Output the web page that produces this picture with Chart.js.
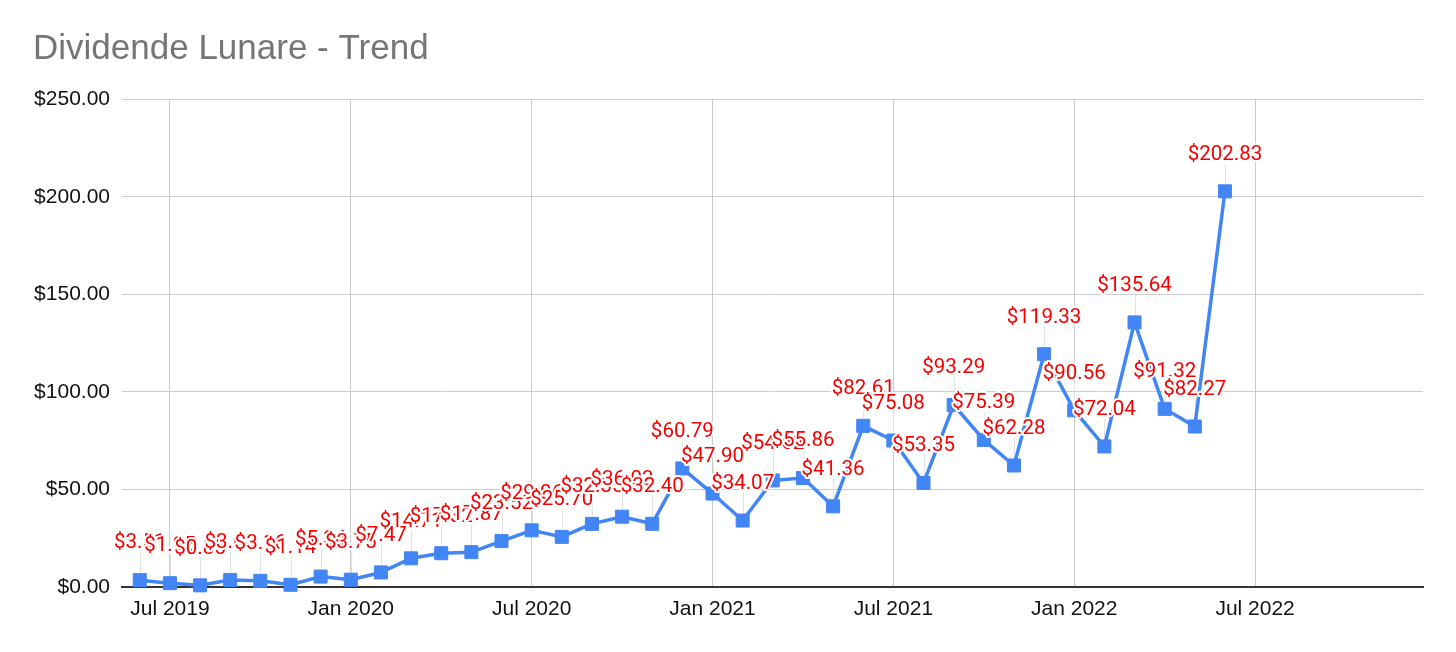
<!DOCTYPE html>
<html>
<head>
<meta charset="utf-8">
<script src="https://cdn.jsdelivr.net/npm/chart.js@4.4.0/dist/chart.umd.min.js"></script>
<style>
html,body{margin:0;padding:0;background:#fff;}
#wrap{width:1456px;height:652px;position:relative;}
</style>
</head>
<body>
<div id="wrap"><canvas id="c"></canvas></div>
<script>
const chartTitle = 'Dividende Lunare - Trend';

const months = [
  '2019-06','2019-07','2019-08','2019-09','2019-10','2019-11','2019-12',
  '2020-01','2020-02','2020-03','2020-04','2020-05','2020-06','2020-07',
  '2020-08','2020-09','2020-10','2020-11','2020-12',
  '2021-01','2021-02','2021-03','2021-04','2021-05','2021-06','2021-07',
  '2021-08','2021-09','2021-10','2021-11','2021-12',
  '2022-01','2022-02','2022-03','2022-04','2022-05','2022-06'
];

const dividends = [
  3.51, 1.95, 0.85, 3.63, 3.16, 1.14, 5.34,
  3.75, 7.47, 14.71, 17.32, 17.87, 23.52, 29.06,
  25.70, 32.35, 36.03, 32.40, 60.79,
  47.90, 34.07, 54.62, 55.86, 41.36, 82.61, 75.08,
  53.35, 93.29, 75.39, 62.28, 119.33,
  90.56, 72.04, 135.64, 91.32, 82.27, 202.83
];

const tickLabels = ['Jul 2019','Jan 2020','Jul 2020','Jan 2021','Jul 2021','Jan 2022','Jul 2022'];
const yTicks = [0, 50, 100, 150, 200, 250];

const MONTH_NAMES = ['Jan','Feb','Mar','Apr','May','Jun','Jul','Aug','Sep','Oct','Nov','Dec'];
function monthIndexFromYM(ym){
  const [y,m] = ym.split('-').map(Number);
  return (y-2019)*12 + (m-6);
}
function monthIndexFromLabel(lbl){
  const [mn, y] = lbl.split(' ');
  return (Number(y)-2019)*12 + (MONTH_NAMES.indexOf(mn)+1-6);
}
const tickPositions = tickLabels.map(monthIndexFromLabel);

const points = months.map((m,i)=>({x: monthIndexFromYM(m), y: dividends[i]}));

const fmt = v => '$' + v.toFixed(2);

const valueLabels = {
  id: 'valueLabels',
  beforeDatasetsDraw(chart){
    const meta = chart.getDatasetMeta(0);
    const ctx = chart.ctx;
    ctx.save();
    ctx.strokeStyle = '#e2e2e2';
    ctx.lineWidth = 1;
    meta.data.forEach(p=>{
      const x = Math.round(p.x)+0.5;
      ctx.beginPath();
      ctx.moveTo(x, p.y-28);
      ctx.lineTo(x, p.y-7);
      ctx.stroke();
    });
    ctx.restore();
  },
  afterDatasetsDraw(chart){
    const meta = chart.getDatasetMeta(0);
    const ctx = chart.ctx;
    ctx.save();
    ctx.font = '20.5px Roboto, "Liberation Sans", sans-serif';
    ctx.textAlign = 'center';
    ctx.textBaseline = 'alphabetic';
    ctx.lineJoin = 'round';
    meta.data.forEach((p,i)=>{
      const t = fmt(dividends[i]);
      const ty = p.y - 31.7;
      ctx.lineWidth = 4;
      ctx.strokeStyle = '#ffffff';
      ctx.strokeText(t, p.x, ty);
      ctx.fillStyle = '#f50000';
      ctx.fillText(t, p.x, ty);
    });
    ctx.restore();
  }
};

new Chart(document.getElementById('c'), {
  type: 'line',
  data: {
    datasets: [{
      data: points,
      borderColor: '#4285f4',
      backgroundColor: '#4285f4',
      borderWidth: 3.5,
      tension: 0,
      pointStyle: 'rect',
      pointRadius: 9.2,
      pointBorderWidth: 1,
      pointBackgroundColor: '#4285f4',
      pointBorderColor: '#4285f4',
      borderJoinStyle: 'round',
      clip: false
    }]
  },
  options: {
    responsive: true,
    maintainAspectRatio: false,
    animation: false,
    layout: { padding: { left: 33, right: 33, top: 0, bottom: 15 } },
    plugins: {
      legend: { display: false },
      tooltip: { enabled: false },
      title: {
        display: true,
        text: chartTitle,
        align: 'start',
        color: '#757575',
        font: { family: 'Arial, "Liberation Sans", sans-serif', size: 35, weight: 'normal' },
        padding: { top: 28.5, bottom: 28.8 }
      }
    },
    scales: {
      x: {
        type: 'linear',
        min: -0.59,
        max: 42.57,
        afterBuildTicks(scale){ scale.ticks = tickPositions.map(v=>({value:v})); },
        afterFit(scale){ scale.height = 50; },
        ticks: {
          autoSkip: false,
          maxRotation: 0,
          padding: 10,
          color: '#111111',
          font: { family: 'Arial, "Liberation Sans", sans-serif', size: 21 },
          callback(v){ const k = tickPositions.indexOf(v); return k>=0 ? tickLabels[k] : ''; }
        },
        grid: { color: '#cccccc', lineWidth: 1, drawTicks: false },
        border: { display: true, color: '#333333', width: 2 }
      },
      y: {
        min: 0,
        max: 250,
        afterBuildTicks(scale){ scale.ticks = yTicks.map(v=>({value:v})); },
        afterFit(scale){ scale.width = 89; },
        ticks: {
          padding: 12,
          color: '#111111',
          font: { family: 'Arial, "Liberation Sans", sans-serif', size: 21 },
          callback(v){ return fmt(v); }
        },
        grid: { color: '#cccccc', lineWidth: 1, drawTicks: false },
        border: { display: false }
      }
    }
  },
  plugins: [valueLabels]
});
</script>
</body>
</html>
